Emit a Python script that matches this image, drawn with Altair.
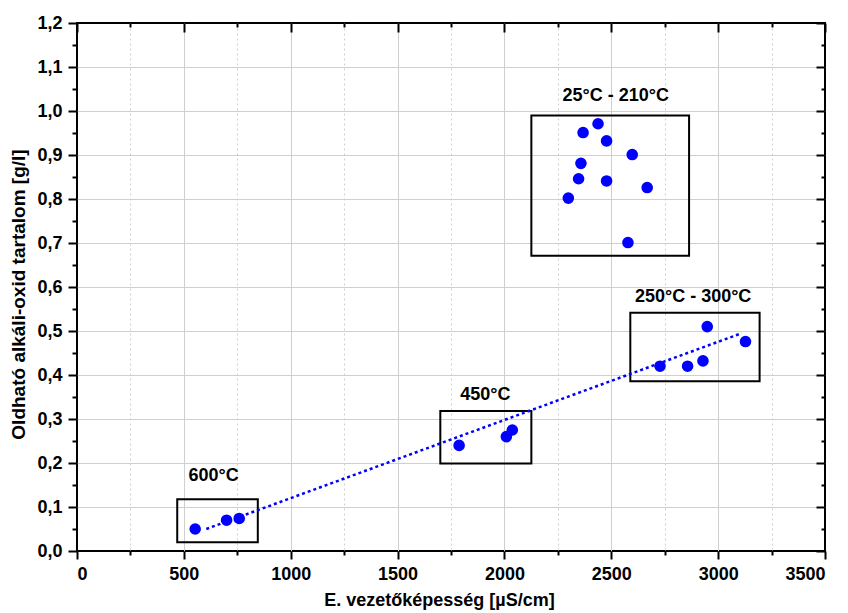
import altair as alt
import pandas as pd

# ---- data ----
pts_x = [553, 700, 759,
         1788, 2009, 2037,
         2728, 2857, 2929, 2949, 3128,
         2299, 2347, 2358, 2368, 2438, 2478, 2478, 2578, 2598, 2668]
pts_y = [0.050, 0.070, 0.074,
         0.240, 0.260, 0.275,
         0.420, 0.420, 0.432, 0.510, 0.476,
         0.802, 0.846, 0.881, 0.951, 0.971, 0.932, 0.841, 0.701, 0.901, 0.826]

box_x1 = [469, 1700, 2589, 2126]
box_x2 = [846, 2126, 3194, 2864]
box_y1 = [0.020, 0.199, 0.386, 0.671]
box_y2 = [0.1175, 0.318, 0.5416, 0.990]

label_text = ["600°C", "450°C", "250°C - 300°C", "25°C - 210°C"]
label_x = [639, 1911, 2883, 2521]
label_y = [0.170, 0.355, 0.577, 1.033]

fit_x = [605, 3110]
fit_y = [0.050, 0.495]

x_major = [0, 500, 1000, 1500, 2000, 2500, 3000, 3500]
x_minor = [250, 750, 1250, 1750, 2250, 2750, 3250]
x_grid = [500, 1000, 1500, 2000, 2500, 3000]
y_major = [0.0, 0.1, 0.2, 0.3, 0.4, 0.5, 0.6, 0.7, 0.8, 0.9, 1.0, 1.1, 1.2]
y_minor = [0.05, 0.15, 0.25, 0.35, 0.45, 0.55, 0.65, 0.75, 0.85, 0.95, 1.05, 1.15]
y_grid = [0.1, 0.2, 0.3, 0.4, 0.5, 0.6, 0.7, 0.8, 0.9, 1.0, 1.1]

x_title = "E. vezetőképesség [µS/cm]"
y_title = "Oldható alkáli-oxid tartalom [g/l]"

pts = pd.DataFrame({"x": pts_x, "y": pts_y})
boxes = pd.DataFrame({"x1": box_x1, "x2": box_x2, "y1": box_y1, "y2": box_y2})
labels = pd.DataFrame({"t": label_text, "x": label_x, "y": label_y})
fit = pd.DataFrame({"x": fit_x, "y": fit_y})

xs = alt.Scale(domain=[0, 3500], nice=False, zero=False)
ys = alt.Scale(domain=[0, 1.2], nice=False, zero=False)

GRID = "#cfcfcf"
LBL = dict(labelFontSize=18, labelFontWeight="bold", labelColor="black",
           titleFontWeight="bold", titleColor="black")
TK = dict(tickColor="black", tickWidth=2, domain=False)

# Layer A: points, main bottom/left axes with labels and titles
ax_a = alt.Axis(orient="bottom", values=x_major, tickSize=8, grid=False,
                labelPadding=6, format="d", title=x_title, titlePadding=8,
                titleFontSize=18, titleX=362, **TK, **LBL)
ay_a = alt.Axis(orient="left", values=y_major, tickSize=9, grid=False,
                labelPadding=6, labelExpr="replace(format(datum.value, '.1f'), '.', ',')",
                title=y_title, titlePadding=8, titleFontSize=19, titleY=271, **TK, **LBL)
layer_pts = alt.Chart(pts).mark_circle(size=135, color="#0000ff", opacity=1).encode(
    x=alt.X("x:Q", scale=xs, axis=ax_a),
    y=alt.Y("y:Q", scale=ys, axis=ay_a),
)

# Layer B: boxes, minor bottom/left ticks (+ dotted minor x grid)
ax_b = alt.Axis(orient="bottom", values=x_minor, tickSize=4, labels=False, grid=True,
                gridColor=GRID, gridDash=[2, 3], gridWidth=1, title=None, **TK)
ay_b = alt.Axis(orient="left", values=y_minor, tickSize=5, labels=False, grid=False,
                title=None, **TK)
layer_box = alt.Chart(boxes).mark_rect(fill="transparent", stroke="black", strokeWidth=2).encode(
    x=alt.X("x1:Q", scale=xs, axis=ax_b),
    x2="x2:Q",
    y=alt.Y("y1:Q", scale=ys, axis=ay_b),
    y2="y2:Q",
)

# Layer C: fit line, inward major top/right ticks
ax_c = alt.Axis(orient="top", values=x_major, tickSize=9, offset=-9, labels=False,
                grid=False, title=None, **TK)
ay_c = alt.Axis(orient="right", values=y_major, tickSize=9, offset=-9, labels=False,
                grid=False, title=None, **TK)
layer_fit = alt.Chart(fit).mark_line(color="#0000ff", strokeDash=[3, 3], strokeWidth=2.5).encode(
    x=alt.X("x:Q", scale=xs, axis=ax_c),
    y=alt.Y("y:Q", scale=ys, axis=ay_c),
)

# Layer D: annotations, inward minor top/right ticks
ax_d = alt.Axis(orient="top", values=x_minor, tickSize=4, offset=-4, labels=False,
                grid=False, title=None, **TK)
ay_d = alt.Axis(orient="right", values=y_minor, tickSize=4, offset=-4, labels=False,
                grid=False, title=None, **TK)
layer_txt = alt.Chart(labels).mark_text(fontSize=18, fontWeight="bold", color="black",
                                        align="center", baseline="middle").encode(
    x=alt.X("x:Q", scale=xs, axis=ax_d),
    y=alt.Y("y:Q", scale=ys, axis=ay_d),
    text="t:N",
)

# Layer E: major grid lines only
ax_e = alt.Axis(orient="bottom", values=x_grid, ticks=False, labels=False, domain=False,
                grid=True, gridColor=GRID, gridWidth=1, title=None)
ay_e = alt.Axis(orient="left", values=y_grid, ticks=False, labels=False, domain=False,
                grid=True, gridColor=GRID, gridWidth=1, title=None)
layer_grid = alt.Chart(pts).mark_point(opacity=0).encode(
    x=alt.X("x:Q", scale=xs, axis=ax_e),
    y=alt.Y("y:Q", scale=ys, axis=ay_e),
)

chart = alt.layer(layer_grid, layer_box, layer_fit, layer_pts, layer_txt).resolve_axis(
    x="independent", y="independent"
).properties(
    width=748, height=528,
    padding={"left": 77, "top": 23, "right": 23, "bottom": 62},
    autosize=alt.AutoSizeParams(type="none"),
    background="white",
).configure(font="Liberation Sans").configure_view(stroke="black", strokeWidth=2)

chart.save("out.html", embed_options={"renderer": "svg", "actions": False})
